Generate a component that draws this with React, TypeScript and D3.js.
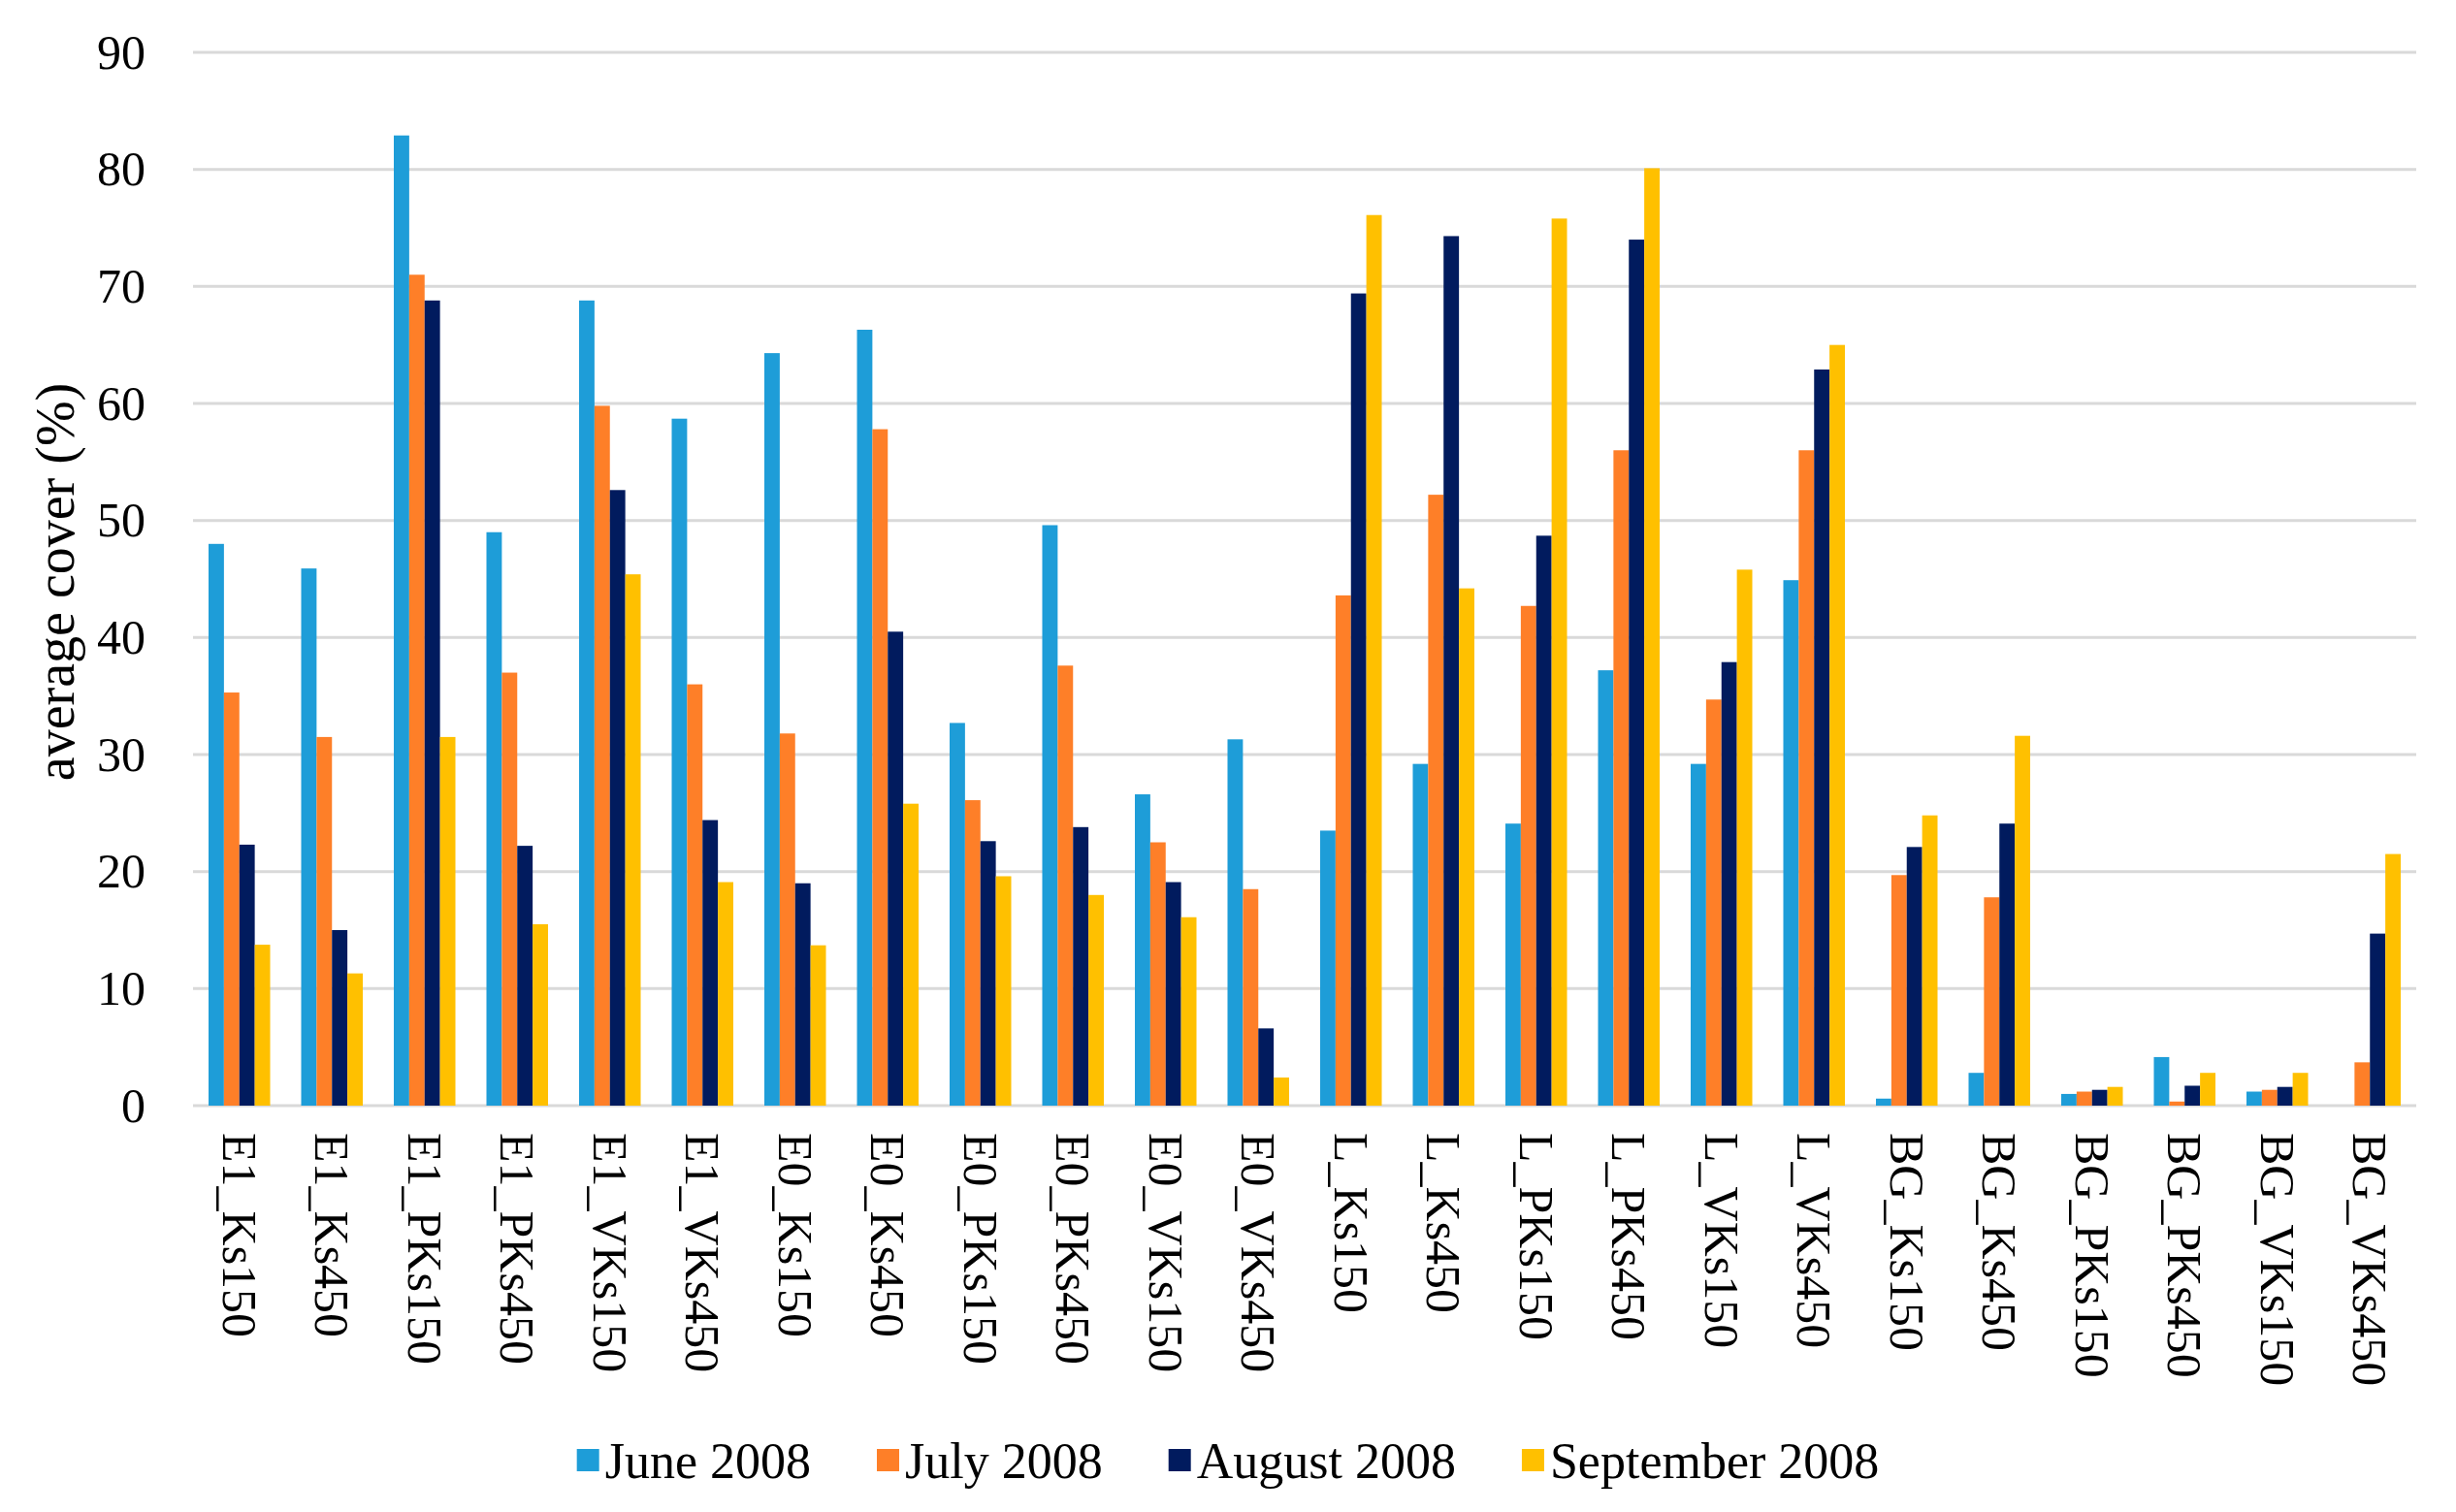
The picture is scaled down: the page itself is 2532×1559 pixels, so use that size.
import React from 'react';
import { select, scaleBand, scaleLinear, axisLeft } from 'd3';

const categories = [
  'E1_Ks150', 'E1_Ks450', 'E1_PKs150', 'E1_PKs450', 'E1_VKs150', 'E1_VKs450',
  'E0_Ks150', 'E0_Ks450', 'E0_PKs150', 'E0_PKs450', 'E0_VKs150', 'E0_VKs450',
  'L_Ks150', 'L_Ks450', 'L_PKs150', 'L_PKs450', 'L_VKs150', 'L_VKs450',
  'BG_Ks150', 'BG_Ks450', 'BG_PKs150', 'BG_PKs450', 'BG_VKs150', 'BG_VKs450',
];

const seriesNames = ['June 2008', 'July 2008', 'August 2008', 'September 2008'];

const june = [48, 45.9, 82.9, 49, 68.8, 58.7, 64.3, 66.3, 32.7, 49.6, 26.6, 31.3, 23.5, 29.2, 24.1, 37.2, 29.2, 44.9, 0.6, 2.8, 1.0, 4.15, 1.2, 0];
const july = [35.3, 31.5, 71, 37, 59.8, 36, 31.8, 57.8, 26.1, 37.6, 22.5, 18.5, 43.6, 52.2, 42.7, 56, 34.7, 56, 19.7, 17.8, 1.2, 0.35, 1.35, 3.7];
const august = [22.3, 15, 68.8, 22.2, 52.6, 24.4, 19, 40.5, 22.6, 23.8, 19.1, 6.6, 69.4, 74.3, 48.7, 74, 37.9, 62.9, 22.1, 24.1, 1.35, 1.7, 1.6, 14.7];
const september = [13.75, 11.3, 31.5, 15.5, 45.4, 19.1, 13.7, 25.8, 19.6, 18, 16.1, 2.4, 76.1, 44.2, 75.8, 80.1, 45.8, 65, 24.8, 31.6, 1.6, 2.8, 2.8, 21.5];

const seriesValues = [june, july, august, september];
const colors = ['#1e9dd8', '#fe7f28', '#011b5e', '#ffc000'];
const yTicks = [0, 10, 20, 30, 40, 50, 60, 70, 80, 90];

const W = 2532;
const H = 1559;
const FONT = '"Liberation Serif", "DejaVu Serif", serif';

export default function App() {
  const svgRef = React.useRef<SVGSVGElement>(null);

  React.useEffect(() => {
    document.body.style.margin = '0';
    const svg = select(svgRef.current);
    svg.selectAll('*').remove();

    const left = 199;
    const right = 2491;
    const top = 54;
    const bottom = 1140;

    const x0 = scaleBand<string>()
      .domain(categories)
      .range([left, right])
      .paddingInner(0.335)
      .paddingOuter(0.1675);
    const x1 = scaleBand<string>()
      .domain(seriesNames)
      .range([0, x0.bandwidth()]);
    const y = scaleLinear().domain([0, 90]).range([bottom, top]);

    // gridlines
    svg
      .append('g')
      .selectAll('line')
      .data(yTicks)
      .join('line')
      .attr('x1', left)
      .attr('x2', right)
      .attr('y1', d => y(d))
      .attr('y2', d => y(d))
      .attr('stroke', '#d9d9d9')
      .attr('stroke-width', 3);

    // y axis labels
    const yAxis = axisLeft(y).tickValues(yTicks).tickSize(0).tickPadding(0);
    const yg = svg
      .append('g')
      .attr('transform', `translate(150,0)`)
      .call(yAxis as any);
    yg.select('.domain').remove();
    yg.selectAll('text')
      .attr('font-family', FONT)
      .attr('font-size', 50)
      .attr('fill', '#000');

    // bars
    const groups = svg
      .append('g')
      .selectAll('g')
      .data(categories)
      .join('g')
      .attr('transform', d => `translate(${x0(d)},0)`);

    groups
      .selectAll('rect')
      .data((_, i) => seriesValues.map((vals, s) => ({ s, v: vals[i] })))
      .join('rect')
      .attr('x', d => x1(seriesNames[d.s]) as number)
      .attr('width', x1.bandwidth())
      .attr('y', d => y(d.v))
      .attr('height', d => y(0) - y(d.v))
      .attr('fill', d => colors[d.s]);

    // category labels rotated
    svg
      .append('g')
      .selectAll('text')
      .data(categories)
      .join('text')
      .attr('transform', d => `translate(${(x0(d) as number) + x0.bandwidth() / 2},1168) rotate(90)`)
      .attr('dominant-baseline', 'central')
      .attr('font-family', FONT)
      .attr('font-size', 50)
      .attr('fill', '#000')
      .text(d => d);

    // y axis title
    svg
      .append('text')
      .attr('transform', 'translate(57,600) rotate(-90)')
      .attr('text-anchor', 'middle')
      .attr('dominant-baseline', 'central')
      .attr('font-family', FONT)
      .attr('font-size', 56)
      .attr('fill', '#000')
      .text('average cover (%)');

    // legend
    const legend = svg.append('g');
    const items = legend
      .selectAll('g')
      .data(seriesNames)
      .join('g');
    items
      .append('rect')
      .attr('width', 23)
      .attr('height', 23)
      .attr('y', -12)
      .attr('fill', (_, i) => colors[i]);
    items
      .append('text')
      .attr('x', 29)
      .attr('dominant-baseline', 'central')
      .attr('font-family', FONT)
      .attr('font-size', 52)
      .attr('fill', '#000')
      .text(d => d);

    let offset = 0;
    const positions: number[] = [];
    items.each(function () {
      const t = select(this).select('text').node() as SVGTextElement;
      positions.push(offset);
      offset += 29 + t.getComputedTextLength() + 68;
    });
    const total = offset - 68;
    const start = W / 2 - total / 2;
    items.attr('transform', (_, i) => `translate(${start + positions[i]},1506)`);
  }, []);

  return <svg ref={svgRef} width={W} height={H} style={{ display: 'block', background: '#fff' }} />;
}
